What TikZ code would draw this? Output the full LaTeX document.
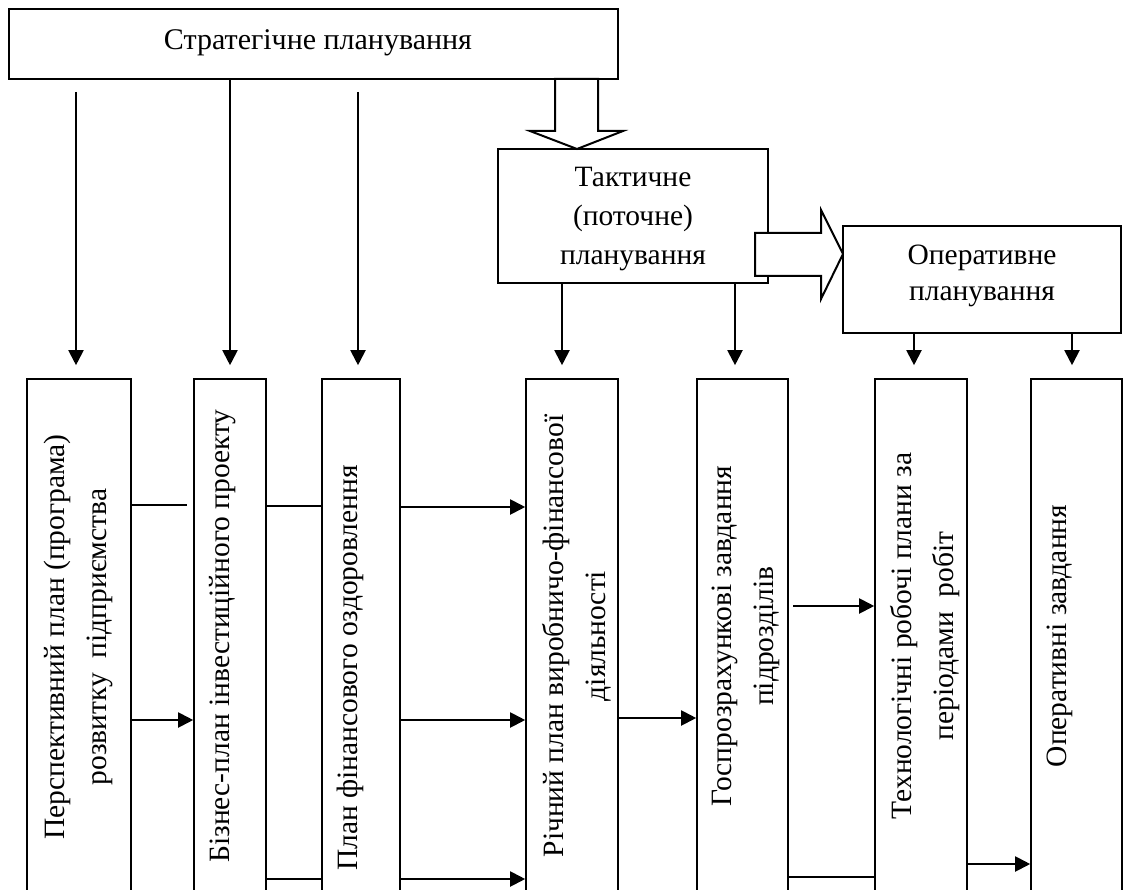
\documentclass[tikz,border=0pt]{standalone}
\usepackage{fontspec}
\setmainfont{Liberation Serif}
\usetikzlibrary{arrows.meta}
\begin{document}
\begin{tikzpicture}[x=1pt,y=-1pt,
  box/.style={draw, line width=1.6pt, fill=white, inner sep=0pt},
  lbl/.style={font=\fontsize{29.5}{42}\selectfont, align=center, inner sep=0pt},
  arr/.style={line width=2pt, -{Triangle[length=15pt,width=15pt]}},
  ln/.style={line width=1.6pt},
  hollow/.style={draw, line width=2pt, fill=white, line join=miter}]
\useasboundingbox (0,0) rectangle (1124,890);
\clip (0,0) rectangle (1124,890);

% top level
\node[box, minimum width=609pt, minimum height=70pt] (strat) at (313.5,44) {};
\node[lbl, font=\fontsize{30}{40}\selectfont] (strattxt) at (318,43) {Стратегічне планування};

\node[box, minimum width=270pt, minimum height=134pt] (tac) at (633,216) {};
\node[lbl, font=\fontsize{29.5}{39}\selectfont] (tactxt) at (633,219) {Тактичне\\(поточне)\\планування};

% hollow arrows
\draw[hollow] (555,79) -- (555,131) -- (530,131) -- (577,149) -- (623,131) -- (598,131) -- (598,79) -- cycle;
\draw[hollow] (755,233) -- (821,233) -- (821,210) -- (843,254) -- (821,299) -- (821,276) -- (755,276) -- cycle;

\node[box, minimum width=278pt, minimum height=107pt] (op) at (982,279.5) {};
\node[lbl, font=\fontsize{29.5}{36}\selectfont] (optxt) at (982,276) {Оперативне\\планування};

% lower boxes
\node[box, minimum width=104pt, minimum height=521pt] (b1) at (79,639.5) {};
\node[box, minimum width=72pt, minimum height=521pt] (b2) at (230,639.5) {};
\node[box, minimum width=78pt, minimum height=521pt] (b3) at (361,639.5) {};
\node[box, minimum width=92pt, minimum height=521pt] (b4) at (572,639.5) {};
\node[box, minimum width=91pt, minimum height=521pt] (b5) at (742.5,639.5) {};
\node[box, minimum width=92pt, minimum height=521pt] (b6) at (921,639.5) {};
\node[box, minimum width=91pt, minimum height=521pt] (b7) at (1076.5,639.5) {};

\node[lbl, rotate=90] (t1) at (78.5,637) {Перспективний план (програма)\\розвитку\ \ підприємства};
\node[lbl, rotate=90] (t2) at (223,636) {Бізнес-план інвестиційного проекту};
\node[lbl, rotate=90] (t3) at (350,668) {План фінансового оздоровлення};
\node[lbl, rotate=90] (t4) at (577,636) {Річний план виробничо-фінансової\\діяльності};
\node[lbl, rotate=90] (t5) at (746,636) {Госпрозрахункові завдання\\підрозділів};
\node[lbl, rotate=90] (t6) at (925,636) {Технологічні робочі плани за\\періодами\ \ робіт};
\node[lbl, rotate=90] (t7) at (1060,636) {Оперативні завдання};

% vertical arrows
\coordinate (s1) at (76,92);
\coordinate (s2) at (230,79);
\coordinate (s3) at (358,92);
\draw[arr, shorten >=13pt] (s1) -- (s1 |- b1.north);
\draw[arr, shorten >=13pt] (s2) -- (s2 |- b2.north);
\draw[arr, shorten >=13pt] (s3) -- (s3 |- b3.north);
\coordinate (s4) at (562,283);
\coordinate (s5) at (735,283);
\draw[arr, shorten >=13pt] (s4) -- (s4 |- b4.north);
\draw[arr, shorten >=13pt] (s5) -- (s5 |- b5.north);
\coordinate (s6) at (914,333);
\coordinate (s7) at (1072,333);
\draw[arr, shorten >=13pt] (s6) -- (s6 |- b6.north);
\draw[arr, shorten >=13pt] (s7) -- (s7 |- b7.north);

% horizontal connectors
\coordinate (e12) at (187,505);
\draw[ln] (b1.east |- e12) -- (e12);
\coordinate (h12) at (0,720);
\draw[arr] (b1.east |- h12) -- (b2.west |- h12);
\coordinate (h23a) at (0,506);
\coordinate (h23b) at (0,879);
\draw[ln] (b2.east |- h23a) -- (b3.west |- h23a);
\draw[ln] (b2.east |- h23b) -- (b3.west |- h23b);
\coordinate (h34a) at (0,507);
\coordinate (h34b) at (0,720);
\coordinate (h34c) at (0,879);
\draw[arr] (b3.east |- h34a) -- (b4.west |- h34a);
\draw[arr] (b3.east |- h34b) -- (b4.west |- h34b);
\draw[arr] (b3.east |- h34c) -- (b4.west |- h34c);
\coordinate (h45) at (0,718);
\draw[arr] (b4.east |- h45) -- (b5.west |- h45);
\coordinate (s56) at (793,606);
\draw[arr] (s56) -- (b6.west |- s56);
\coordinate (h56) at (0,877);
\draw[ln] (b5.east |- h56) -- (b6.west |- h56);
\coordinate (h67) at (0,864);
\draw[arr] (b6.east |- h67) -- (b7.west |- h67);
\end{tikzpicture}
\end{document}
